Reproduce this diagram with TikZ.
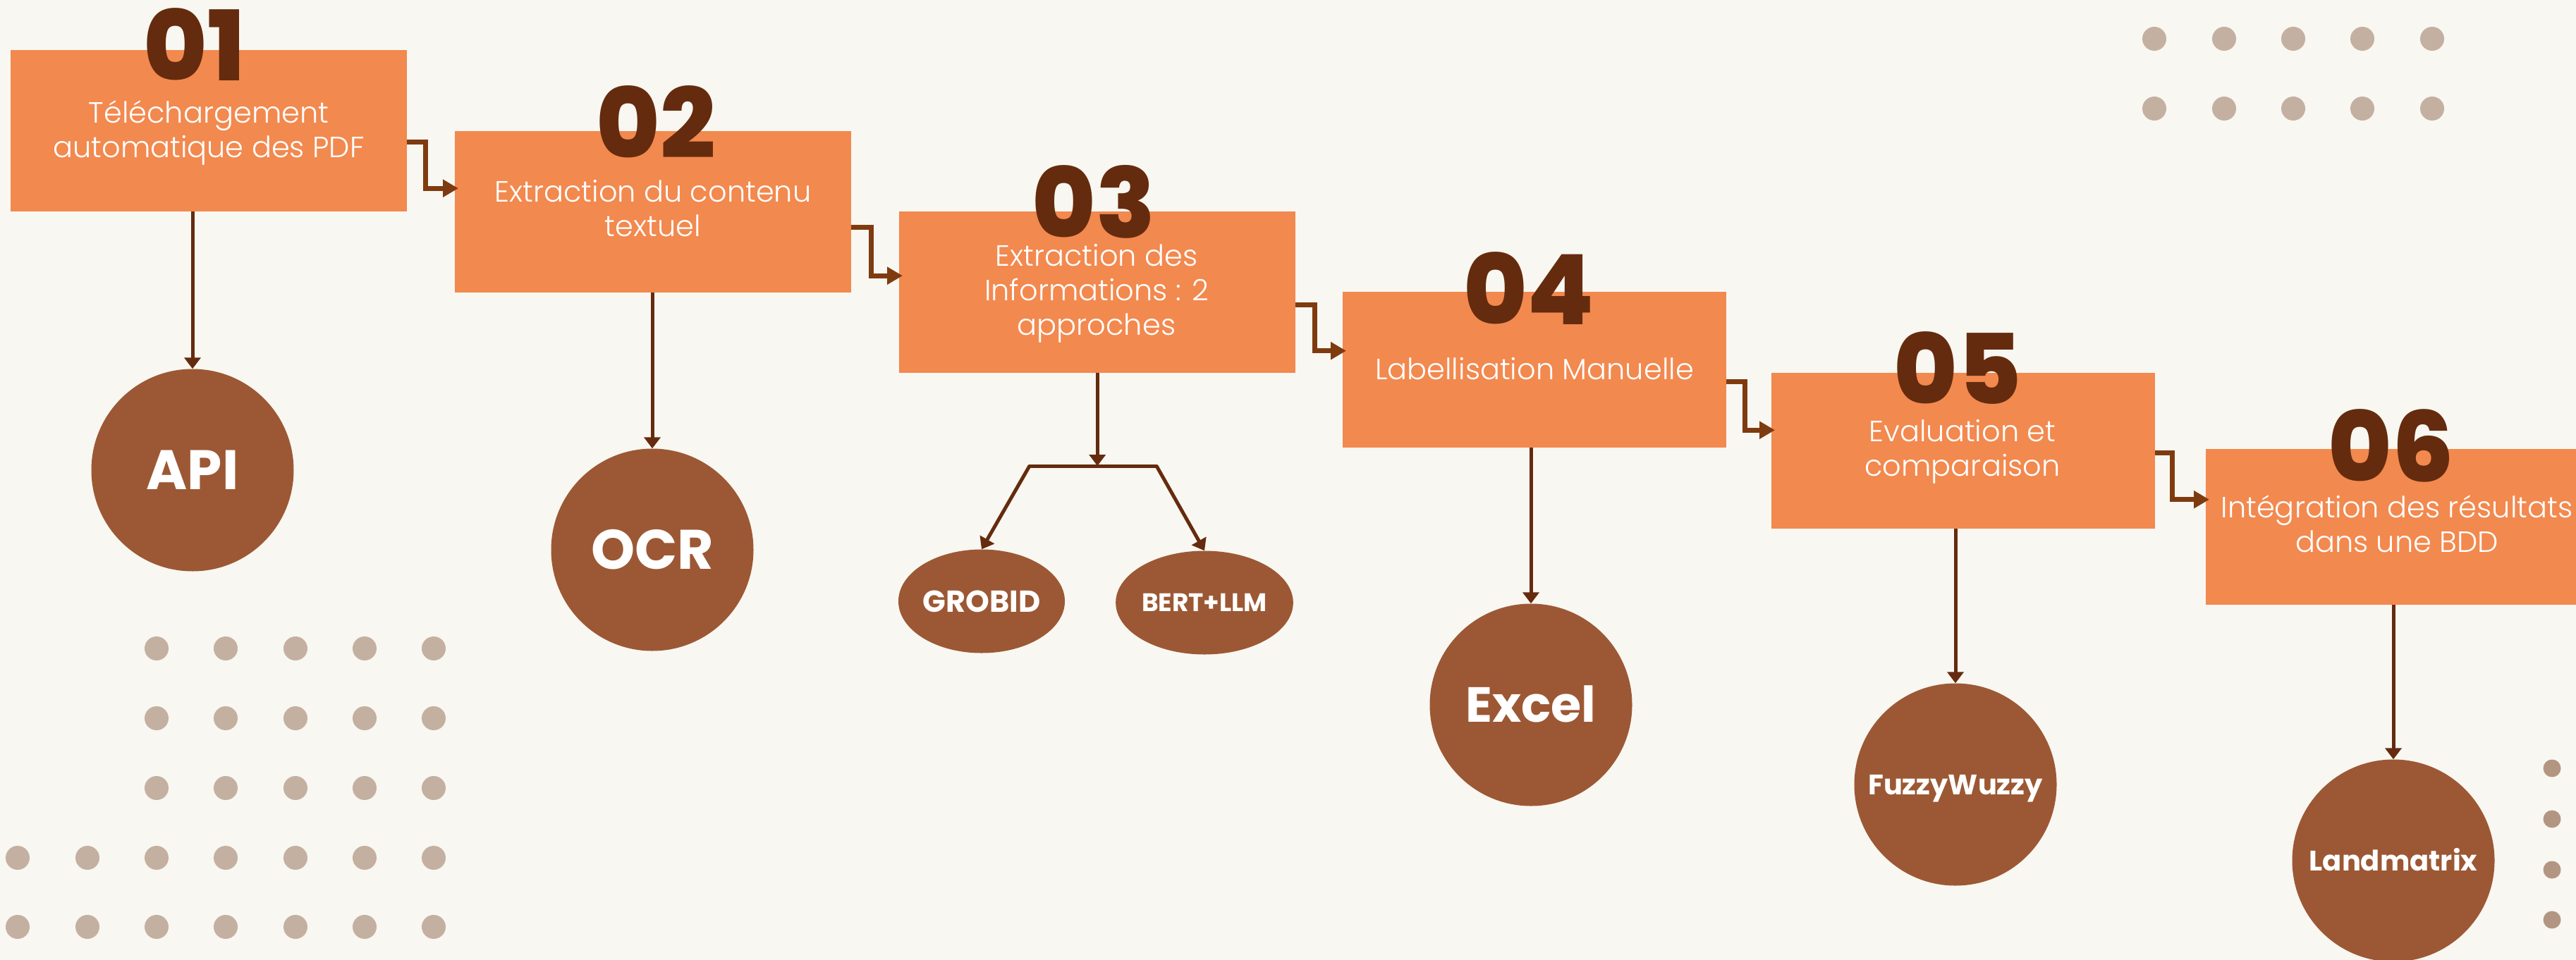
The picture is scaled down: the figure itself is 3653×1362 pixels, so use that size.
\documentclass[tikz,border=0pt]{standalone}
\usepackage{fontspec}
\usetikzlibrary{arrows.meta,shapes.geometric,calc}
\IfFontExistsTF{Poppins Light}{\newfontfamily\boxfont{Poppins Light}}{\newfontfamily\boxfont{Poppins}}
\IfFontExistsTF{Poppins ExtraBold}{\newfontfamily\numfont{Poppins ExtraBold}}{%
  \IfFontExistsTF{Poppins Black}{\newfontfamily\numfont{Poppins Black}}{\newfontfamily\numfont{Poppins}[UprightFont=*,FakeBold=3]}}
\IfFontExistsTF{Poppins Bold}{\newfontfamily\circfont{Poppins Bold}}{\newfontfamily\circfont{Poppins}[FakeBold=2]}
\definecolor{bgc}{HTML}{F8F7F1}
\definecolor{boxc}{HTML}{F2894F}
\definecolor{circc}{HTML}{9C5834}
\definecolor{numc}{HTML}{652B0E}
\definecolor{arrc}{HTML}{7F3B10}
\definecolor{dotc}{HTML}{C4B0A1}
\definecolor{dotd}{HTML}{B39682}
\begin{document}
\begin{tikzpicture}[x=1pt,y=-1pt,
  stepbox/.style={rectangle, fill=boxc, inner sep=0pt, anchor=north west},
  bigbox/.style={stepbox, minimum width=562pt, minimum height=229pt},
  smallbox/.style={stepbox, minimum width=544pt, minimum height=221pt},
  boxtxt/.style={text=white, align=center, inner sep=0pt, anchor=base,
    font=\boxfont\fontsize{41.5}{49}\selectfont},
  numtxt/.style={text=numc, inner sep=0pt, anchor=base,
    font=\numfont\fontsize{138}{145}\selectfont},
  tool/.style={fill=circc, text=white, inner sep=0pt, text depth=0pt},
  bigcirc/.style={tool, circle, minimum size=287pt},
  smallell/.style={tool, ellipse, minimum width=223pt, minimum height=147pt},
  harrow/.style={draw=arrc, line width=7pt, line join=miter,
    -{Triangle[length=22pt,width=24pt]}},
  vline/.style={draw=numc, line width=5pt, -{Triangle[length=16pt,width=23pt]}},
  vplain/.style={draw=numc, line width=5pt, line cap=round}
]
\useasboundingbox (0,0) rectangle (3653,1362);
\clip (0,0) rectangle (3653,1362);
\fill[bgc] (0,0) rectangle (3653,1362);

% decorative dots
\foreach \yy in {920,1019,1118} \foreach \xx in {222,320,419,517,615}
  \fill[dotc] (\xx,\yy) circle[radius=17];
\foreach \yy in {1217,1315} \foreach \xx in {25,124,222,320,419,517,615}
  \fill[dotc] (\xx,\yy) circle[radius=17];
\foreach \yy in {55,154} \foreach \xx in {3055,3154,3252,3350,3449}
  \fill[dotc] (\xx,\yy) circle[radius=17];
\foreach \yy in {1090,1162,1234,1305}
  \fill[dotd] (3619,\yy) circle[radius=12.5];

% step boxes
\node[bigbox] (b1) at (15,71) {};
\node[bigbox] (b2) at (645,186) {};
\node[bigbox] (b3) at (1275,300) {};
\node[smallbox] (b4) at (1904,414) {};
\node[smallbox] (b5) at (2512,529) {};
\node[smallbox] (b6) at (3128,637) {};

% box texts (anchor = baseline of last line)
\node[boxtxt] (t1) at (296,223) {Téléchargement\\automatique des PDF};
\node[boxtxt] (t2) at (926,335) {Extraction du contenu\\textuel};
\node[boxtxt] (t3) at (1555,475) {Extraction des\\Informations : 2\\approches};
\node[boxtxt] (t4) at (2176,538) {Labellisation Manuelle};
\node[boxtxt] (t5) at (2783,675) {Evaluation et\\comparaison};
\node[boxtxt] (t6) at (3399,783) {Intégration des résultats\\dans une BDD};

% numbers
\node[numtxt] (n1) at (276,115) {01};
\node[numtxt] (n2) at (930,224) {02};
\node[numtxt] (n3) at (1551,337) {03};
\node[numtxt] (n4) at (2168,460) {04};
\node[numtxt] (n5) at (2776,573) {05};
\node[numtxt] (n6) at (3391,683) {06};

% tools
\node[bigcirc, text height=55pt, font=\circfont\fontsize{79}{80}\selectfont] (c1) at (273,667) {API};
\node[bigcirc, text height=55pt, font=\circfont\fontsize{79}{80}\selectfont] (c2) at (925,780) {OCR};
\node[smallell, text height=30pt, font=\circfont\fontsize{43}{44}\selectfont] (c3a) at (1392,853) {GROBID};
\node[smallell, text height=25pt, font=\circfont\fontsize{36}{37}\selectfont] (c3b) at (1708,855) {BERT+LLM};
\node[bigcirc, text height=49pt, font=\circfont\fontsize{70}{71}\selectfont] (c4) at (2171,1000) {Excel};
\node[bigcirc, text height=28pt, font=\circfont\fontsize{40}{41}\selectfont] (c5) at (2773,1113) {FuzzyWuzzy};
\node[bigcirc, text height=28pt, font=\circfont\fontsize{40}{41}\selectfont] (c6) at (3394,1221) {Landmatrix};

% step-to-step arrows
\draw[harrow] ([yshift=-15.5pt]b1.east) -- ++(26,0) |- ([xshift=5pt,yshift=33.5pt]b2.west);
\draw[harrow] ([yshift=-21.5pt]b2.east) -- ++(28,0) |- ([xshift=5pt,yshift=23.5pt]b3.west);
\draw[harrow] ([yshift=-17.5pt]b3.east) -- ++(27,0) |- ([xshift=5pt,yshift=27pt]b4.west);
\draw[harrow] ([yshift=-17pt]b4.east) -- ++(26,0) |- ([xshift=5pt,yshift=29.5pt]b5.west);
\draw[harrow] ([yshift=-2.5pt]b5.east) -- ++(24,0) |- ([xshift=5pt,yshift=39pt]b6.west);

% step-to-tool connectors
\draw[vline] (c1 |- b1.south) -- (c1.north);
\draw[vline] (c2 |- b2.south) -- (c2.north);
\draw[vline] (c4 |- b4.south) -- (c4.north);
\draw[vline] (c5 |- b5.south) -- (c5.north);
\draw[vline] (c6 |- b6.south) -- (c6.north);

% branch from step 3
\coordinate (fork) at (b3.south |- 0,661);
\coordinate (forkl) at (1460,661);
\coordinate (forkr) at (1640,661);
\draw[vline] (b3.south) -- (fork);
\draw[vplain] (forkl) -- (forkr);
\draw[vline] (forkl) -- (c3a.north);
\draw[vline] (forkr) -- (c3b.north);
\end{tikzpicture}
\end{document}
